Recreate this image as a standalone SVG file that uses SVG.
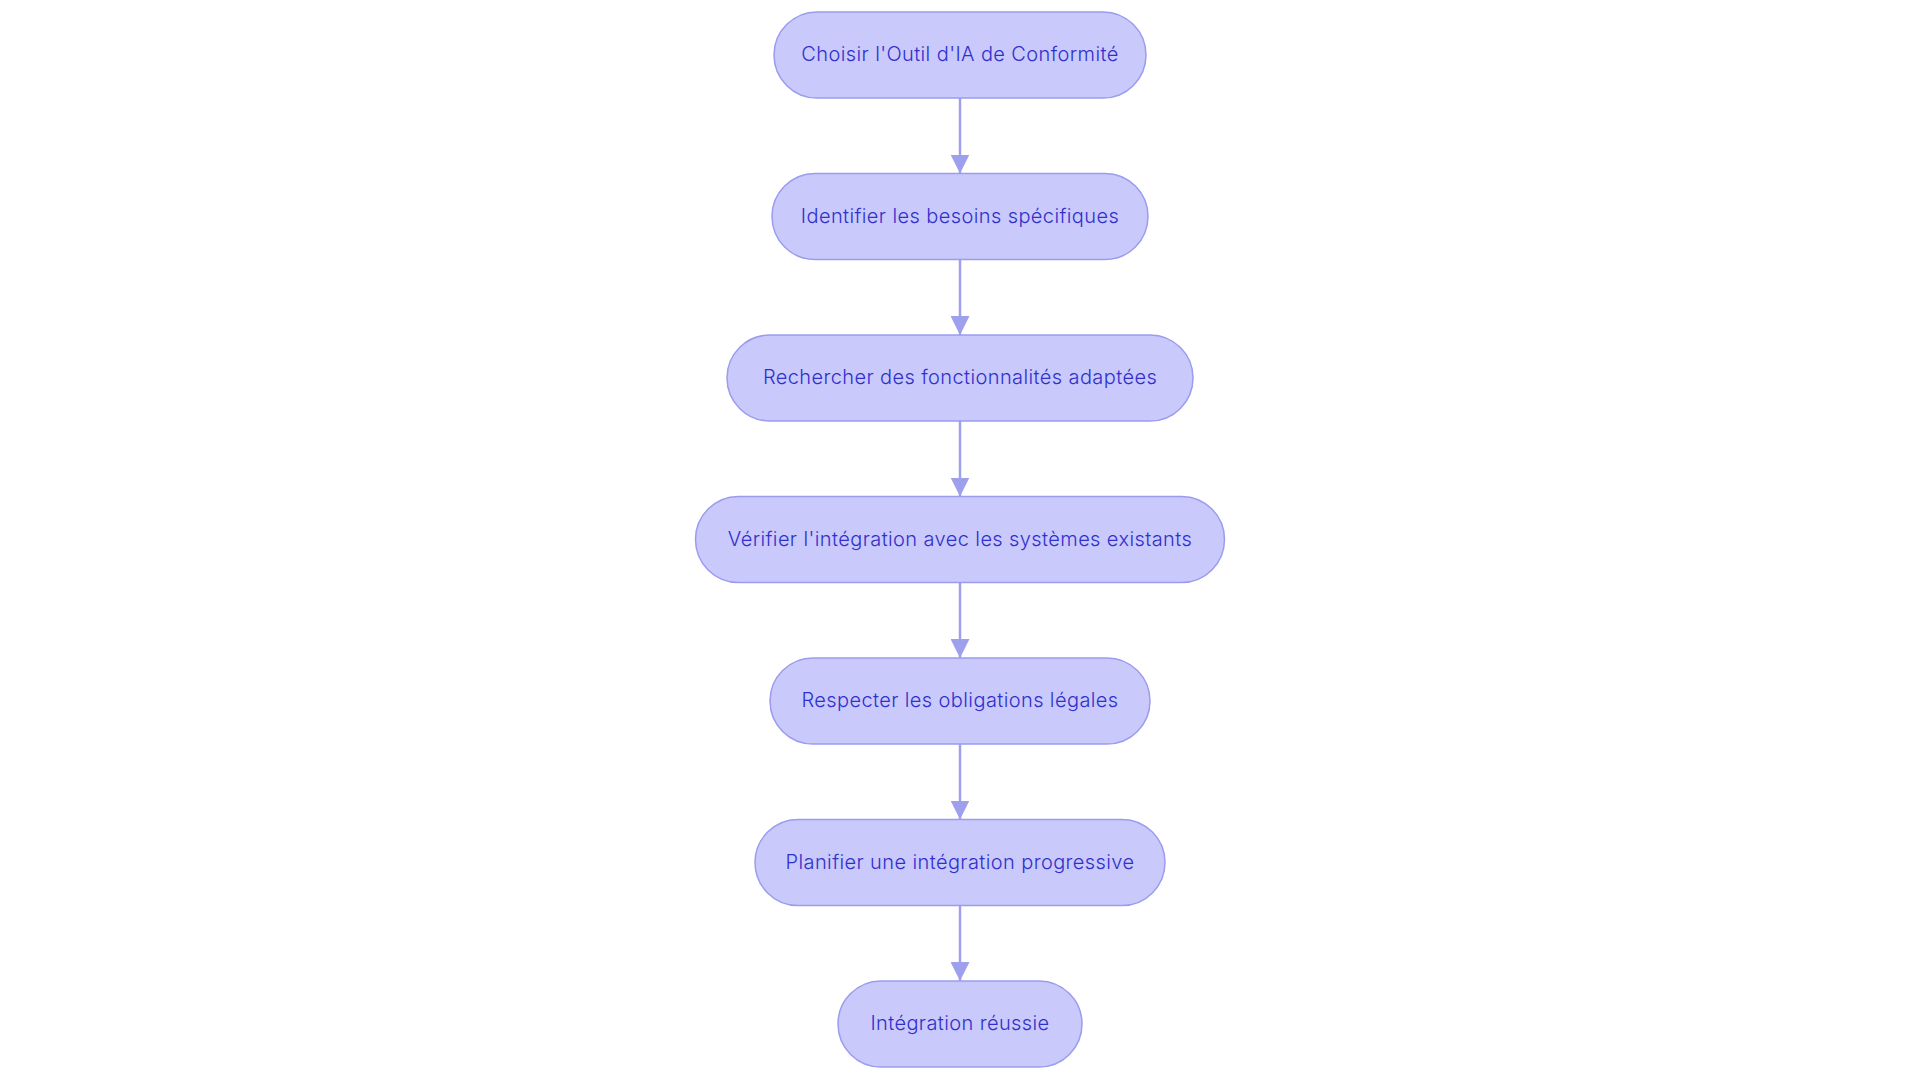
<svg xmlns="http://www.w3.org/2000/svg" width="1920" height="1083" viewBox="0 0 1920 1083">
<defs>
<style>
.node rect{fill:#c9c9fc;stroke:#9b9cee;stroke-width:1.5}
.node text{font-family:Inter,"Noto Sans",sans-serif;font-size:20px;font-weight:300;letter-spacing:0.4px;fill:#3030cc;text-anchor:middle;dominant-baseline:central}
.edge{stroke:#9ea0ee;stroke-width:2.5;fill:none}
</style>
<marker id="arr" markerWidth="19" markerHeight="19" viewBox="0 0 19 19" refX="19" refY="9.5" orient="auto" markerUnits="userSpaceOnUse">
<path d="M0,0 L19,9.5 L0,19 Z" fill="#9ea0ee"/>
</marker>
</defs>
<rect width="1920" height="1083" fill="#ffffff"/>
<g id="connectors">
<line class="edge" x1="960" y1="98" x2="960" y2="173.5" marker-end="url(#arr)"/>
<line class="edge" x1="960" y1="259.5" x2="960" y2="335" marker-end="url(#arr)"/>
<line class="edge" x1="960" y1="421" x2="960" y2="496.5" marker-end="url(#arr)"/>
<line class="edge" x1="960" y1="582.5" x2="960" y2="658" marker-end="url(#arr)"/>
<line class="edge" x1="960" y1="744" x2="960" y2="819.5" marker-end="url(#arr)"/>
<line class="edge" x1="960" y1="905.5" x2="960" y2="981" marker-end="url(#arr)"/>
</g>
<g id="n1" class="node"><rect x="774" y="12" width="372" height="86" rx="43"/><text x="960" y="54">Choisir l'Outil d'IA de Conformité</text></g>
<g id="n2" class="node"><rect x="772" y="173.5" width="376" height="86" rx="43"/><text x="960" y="215.5">Identifier les besoins spécifiques</text></g>
<g id="n3" class="node"><rect x="727" y="335" width="466" height="86" rx="43"/><text x="960" y="377">Rechercher des fonctionnalités adaptées</text></g>
<g id="n4" class="node"><rect x="695.5" y="496.5" width="529" height="86" rx="43"/><text x="960" y="538.5">Vérifier l'intégration avec les systèmes existants</text></g>
<g id="n5" class="node"><rect x="770" y="658" width="380" height="86" rx="43"/><text x="960" y="700">Respecter les obligations légales</text></g>
<g id="n6" class="node"><rect x="755" y="819.5" width="410" height="86" rx="43"/><text x="960" y="861.5">Planifier une intégration progressive</text></g>
<g id="n7" class="node"><rect x="838" y="981" width="244" height="86" rx="43"/><text x="960" y="1023">Intégration réussie</text></g>
</svg>
